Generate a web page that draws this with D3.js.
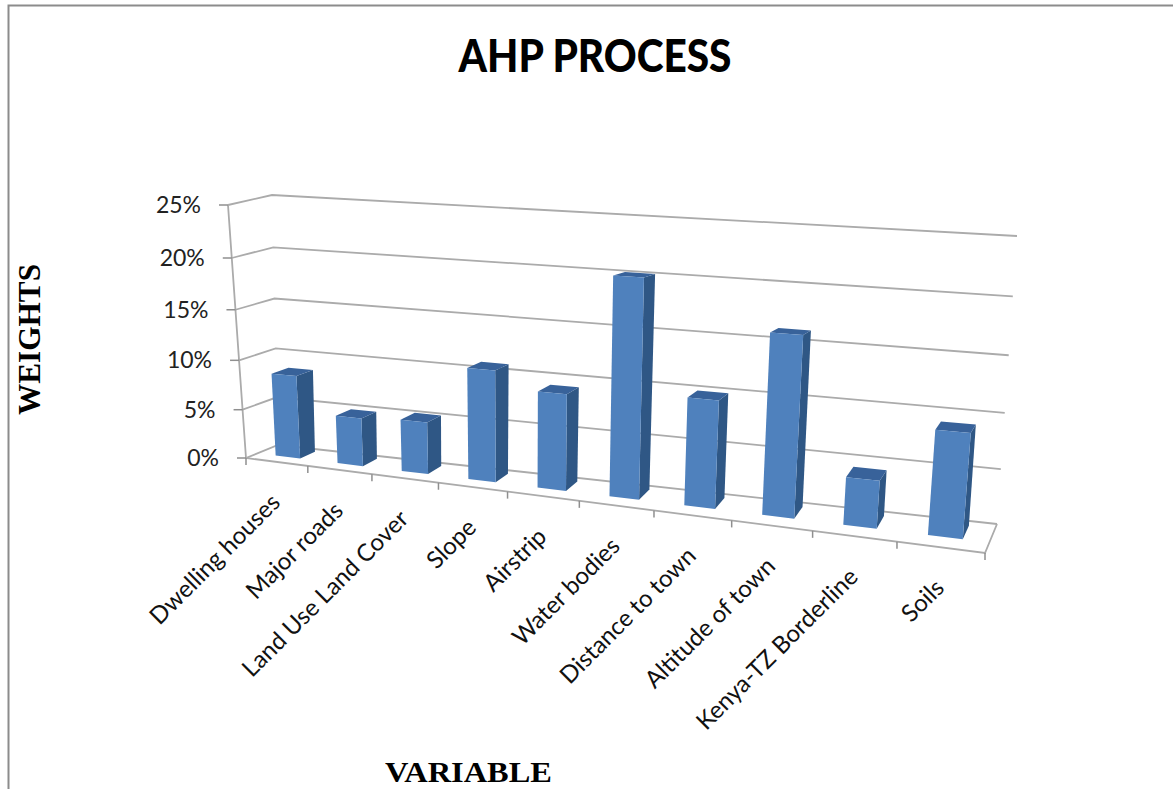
<!DOCTYPE html>
<html>
<head>
<meta charset="utf-8">
<script src="https://cdn.jsdelivr.net/npm/d3@7"></script>
<style>
  html, body { margin: 0; background: #fff; }
  svg { display: block; }
</style>
</head>
<body>
<svg></svg>
<script>
var categories = ["Dwelling houses", "Major roads", "Land Use Land Cover", "Slope", "Airstrip",
  "Water bodies", "Distance to town", "Altitude of town", "Kenya-TZ Borderline", "Soils"]
var weights = [0.084, 0.048, 0.051, 0.107, 0.091, 0.2, 0.098, 0.16, 0.042, 0.09]
var yTicks = [0, 0.05, 0.10, 0.15, 0.20, 0.25]

var width = 1173, height = 789

var svg = d3.select("svg").attr("width", width).attr("height", height)

// corners of the 3d box as they land on the picture
var frontLeft = {bottom: [246, 458], top: [228, 205]}
var backLeft = {bottom: [278, 445], top: [272, 195]}
var frontRight = {bottom: [985, 553], top: [1012, 233]}
var backRight = {bottom: [997, 524], top: [1017, 236]}

var xScale = d3.scaleBand().domain(categories).range([0, 1])
var yScale = d3.scaleLinear().domain([0, 0.25]).range([0, 1])

function foreshorten(t, k) { return t / (t + k * (1 - t)) }

function mix(a, b, t) { return [a[0] + (b[0] - a[0]) * t, a[1] + (b[1] - a[1]) * t] }

// u along the category axis, d into the depth, value up the y axis
function project(u, d, value) {
  var su = foreshorten(u, 1.217)
  var sv = foreshorten(yScale(value), 1.06)
  var left = mix(mix(frontLeft.bottom, backLeft.bottom, d), mix(frontLeft.top, backLeft.top, d), sv)
  var right = mix(mix(frontRight.bottom, backRight.bottom, d), mix(frontRight.top, backRight.top, d), sv)
  return mix(left, right, su)
}

var line = d3.line()
function poly(points) { return line(points) + "Z" }

var gridColor = "#ababab"

// frame of the chart area
svg.append("rect")
  .attr("x", 8.5).attr("y", 5.5)
  .attr("width", 1170).attr("height", 800)
  .attr("fill", "#fff").attr("stroke", "#8c8c8c").attr("stroke-width", 2)

// gridlines: side wall then back wall
svg.selectAll(".grid")
  .data(yTicks)
  .enter().append("path")
  .attr("class", "grid")
  .attr("fill", "none")
  .attr("stroke", gridColor)
  .attr("stroke-width", 1.8)
  .attr("d", d => line([project(0, 0, d), project(0, 1, d), project(1, 1, d)]))

// y axis and floor edges
svg.append("path")
  .attr("fill", "none")
  .attr("stroke", gridColor)
  .attr("stroke-width", 1.8)
  .attr("d", line([project(0, 0, 0.25), project(0, 0, 0), project(1, 0, 0), project(1, 1, 0)]))

svg.selectAll(".ytick")
  .data(yTicks)
  .enter().append("path")
  .attr("class", "ytick")
  .attr("stroke", "#8f8f8f")
  .attr("stroke-width", 1.5)
  .attr("d", d => {
    var p = project(0, 0, d)
    return line([p, [p[0] - 9, p[1]]])
  })

svg.selectAll(".xtick")
  .data(d3.range(categories.length + 1))
  .enter().append("path")
  .attr("class", "xtick")
  .attr("stroke", "#8f8f8f")
  .attr("stroke-width", 1.5)
  .attr("d", d => {
    var p = project(d / categories.length, 0, 0)
    return line([p, [p[0], p[1] + 7]])
  })

// bars
var bars = svg.selectAll(".bar")
  .data(categories)
  .enter().append("g")
  .attr("class", "bar")

var pad = xScale.bandwidth() * 0.3, d0 = 0.36, d1 = 0.84

function barValue(c) { return weights[categories.indexOf(c)] }

bars.append("path")
  .attr("fill", "#2f5785")
  .attr("d", c => {
    var x = xScale(c) + xScale.bandwidth() - pad, v = barValue(c)
    return poly([project(x, d0, 0), project(x, d1, 0), project(x, d1, v), project(x, d0, v)])
  })

bars.append("path")
  .attr("fill", "#38629a")
  .attr("d", c => {
    var a = xScale(c) + pad, b = xScale(c) + xScale.bandwidth() - pad, v = barValue(c)
    return poly([project(a, d0, v), project(b, d0, v), project(b, d1, v), project(a, d1, v)])
  })

bars.append("path")
  .attr("fill", "#4f81bd")
  .attr("d", c => {
    var a = xScale(c) + pad, b = xScale(c) + xScale.bandwidth() - pad, v = barValue(c)
    return poly([project(a, d0, 0), project(b, d0, 0), project(b, d0, v), project(a, d0, v)])
  })

// tick labels
var labelFont = "Lato, 'Open Sans', sans-serif"

svg.selectAll(".ylabel")
  .data(yTicks)
  .enter().append("text")
  .attr("class", "ylabel")
  .attr("x", d => project(0, 0, d)[0] - 27)
  .attr("y", d => project(0, 0, d)[1] + 8)
  .attr("text-anchor", "end")
  .attr("font-family", labelFont)
  .attr("font-size", 23)
  .attr("fill", "#222")
  .text(d3.format(".0%"))

svg.selectAll(".xlabel")
  .data(categories)
  .enter().append("text")
  .attr("class", "xlabel")
  .attr("transform", c => {
    var p = project(xScale(c) + xScale.bandwidth() / 2, 0, 0)
    return "translate(" + (p[0] + 5) + "," + (p[1] + 42) + ") rotate(-45)"
  })
  .attr("text-anchor", "end")
  .attr("font-family", labelFont)
  .attr("font-size", 24)
  .attr("fill", "#111")
  .text(c => c)

// titles
svg.append("text")
  .attr("x", 595).attr("y", 72)
  .attr("text-anchor", "middle")
  .attr("font-family", labelFont)
  .attr("font-weight", "900")
  .attr("font-size", 45)
  .attr("textLength", 273)
  .attr("lengthAdjust", "spacingAndGlyphs")
  .attr("fill", "#000")
  .text("AHP PROCESS")

svg.append("text")
  .attr("x", 468.5).attr("y", 782)
  .attr("text-anchor", "middle")
  .attr("font-family", "'Liberation Serif', serif")
  .attr("font-weight", "bold")
  .attr("font-size", 29)
  .attr("textLength", 167)
  .attr("lengthAdjust", "spacingAndGlyphs")
  .attr("fill", "#000")
  .text("VARIABLE")

svg.append("text")
  .attr("transform", "translate(40,339.5) rotate(-90)")
  .attr("text-anchor", "middle")
  .attr("font-family", "'Liberation Serif', serif")
  .attr("font-weight", "bold")
  .attr("font-size", 32)
  .attr("textLength", 151)
  .attr("lengthAdjust", "spacingAndGlyphs")
  .attr("fill", "#000")
  .text("WEIGHTS")
</script>
</body>
</html>
